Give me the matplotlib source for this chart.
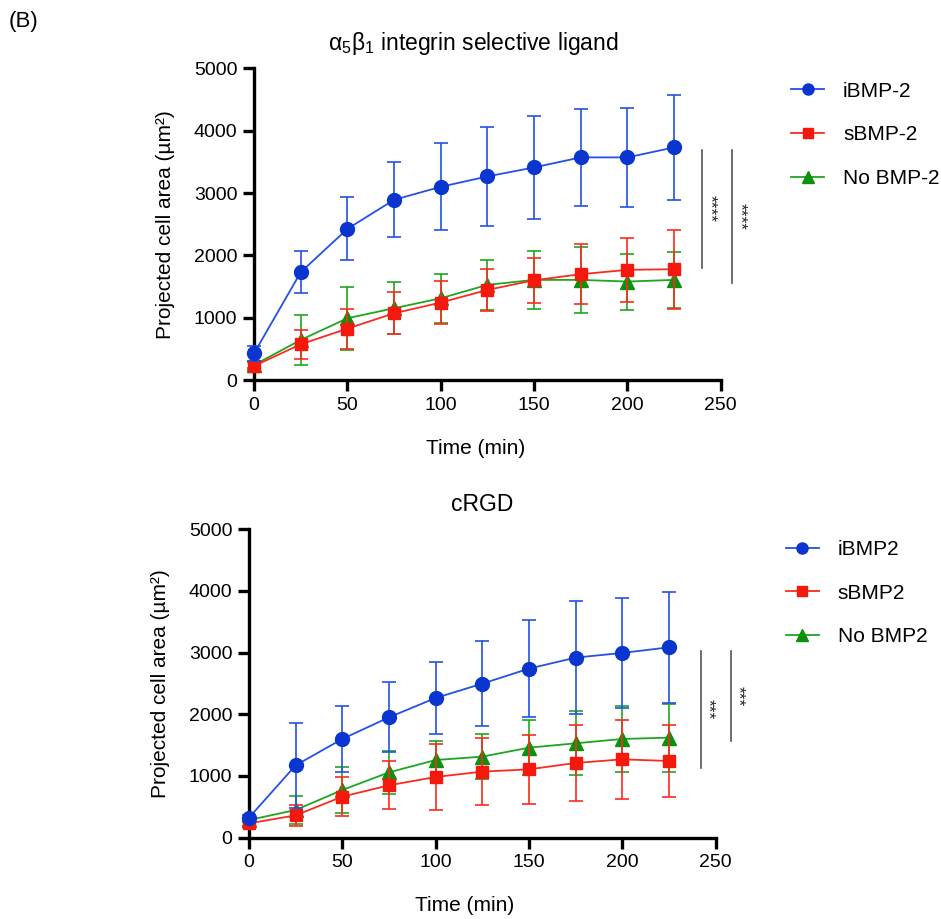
# Projected cell area over time, two panels (a5b1 ligand / cRGD)
import matplotlib
matplotlib.use('Agg')
from matplotlib import pyplot as plt
from matplotlib.lines import Line2D

plt.rcParams['font.family'] = ['Liberation Sans', 'DejaVu Sans']
plt.rcParams['mathtext.default'] = 'regular'

time = [0, 25, 50, 75, 100, 125, 150, 175, 200, 225]

# panel 1: a5b1 integrin selective ligand
top_labels = ['iBMP-2', 'sBMP-2', 'No BMP-2']
top_ibmp = [428, 1730, 2426, 2892, 3101, 3267, 3412, 3573, 3573, 3733]
top_ibmp_sd = [125, 335, 505, 600, 700, 800, 830, 775, 790, 840]
top_sbmp = [225, 573, 825, 1071, 1243, 1446, 1601, 1698, 1768, 1778]
top_sbmp_sd = [60, 233, 320, 335, 340, 338, 360, 480, 515, 635]
top_nobmp = [241, 643, 991, 1152, 1312, 1527, 1607, 1607, 1580, 1607]
top_nobmp_sd = [50, 400, 505, 415, 390, 405, 470, 530, 450, 450]

# panel 2: cRGD
bot_labels = ['iBMP2', 'sBMP2', 'No BMP2']
bot_ibmp = [324, 1173, 1600, 1951, 2265, 2497, 2741, 2919, 2995, 3086]
bot_ibmp_sd = [50, 690, 540, 565, 590, 685, 780, 920, 890, 900]
bot_sbmp = [232, 362, 665, 849, 984, 1070, 1108, 1211, 1270, 1243]
bot_sbmp_sd = [40, 175, 320, 390, 530, 545, 555, 615, 640, 590]
bot_nobmp = [286, 449, 773, 1059, 1259, 1314, 1459, 1530, 1600, 1622]
bot_nobmp_sd = [40, 220, 370, 350, 310, 370, 450, 520, 540, 550]

# significance bars: (x, y_top, y_bottom, x_text, text)
top_sig = [(240, 3692, 1798, 244, '****'), (256, 3692, 1557, 260.5, '****')]
bot_sig = [(242, 3032, 1124, 246, '***'), (258, 3032, 1573, 262, '***')]

blue_line, blue_mk = '#2352e3', '#0a36cf'
red_line, red_mk = '#fb2a1e', '#f5180c'
green_line, green_mk = '#1fa51f', '#0d900d'


def draw_panel(ax, title, labels, ib, ib_sd, sb, sb_sd, nb, nb_sd, sig,
               title_x, xlabel_x, legend_anchor):
    kw = dict(elinewidth=1.2, capsize=4.8, capthick=1.2, lw=1.3, clip_on=False)
    b3 = ax.errorbar(time, nb, yerr=nb_sd, color=green_line, marker='^', ms=10,
                     mfc=green_mk, mec=green_mk, zorder=3, **kw)
    b2 = ax.errorbar(time, sb, yerr=sb_sd, color=red_line, marker='s', ms=9,
                     mfc=red_mk, mec=red_mk, zorder=4, **kw)
    b1 = ax.errorbar(time, ib, yerr=ib_sd, color=blue_line, marker='o', ms=10,
                     mfc=blue_mk, mec=blue_mk, zorder=5, **kw)
    for b in (b1, b2, b3):
        for c in list(b[1]) + list(b[2]):
            c.set_clip_on(False)

    for x, y0, y1, xt, s in sig:
        ax.plot([x, x], [y0, y1], color='#555555', lw=1.2, clip_on=False)
        ax.text(xt, (y0 + y1) / 2, s, rotation=270, fontsize=12.5,
                ha='center', va='center', color='#222222')

    ax.set_xlim(0, 250)
    ax.set_ylim(0, 5000)
    ax.set_xticks([0, 50, 100, 150, 200, 250])
    ax.set_yticks([0, 1000, 2000, 3000, 4000, 5000])
    for side in ['top', 'right']:
        ax.spines[side].set_visible(False)
    for side in ['left', 'bottom']:
        ax.spines[side].set_linewidth(2.4)
    ax.tick_params(axis='both', which='major', labelsize=14, width=2.4,
                   length=8, pad=4, direction='out')

    ax.set_title(title, fontsize=16.5, pad=13, x=title_x)
    ax.set_xlabel('Time (min)', fontsize=15)
    ax.xaxis.set_label_coords(xlabel_x, -0.19)
    ax.set_ylabel('Projected cell area (µm²)', fontsize=15)
    ax.yaxis.set_label_coords(-0.17, 0.5)

    handles = [
        Line2D([], [], color=blue_line, marker='o', ms=8, mfc=blue_mk, mec=blue_mk, lw=1.3),
        Line2D([], [], color=red_line, marker='s', ms=7.5, mfc=red_mk, mec=red_mk, lw=1.3),
        Line2D([], [], color=green_line, marker='^', ms=8, mfc=green_mk, mec=green_mk, lw=1.3),
    ]
    ax.legend(handles, labels, loc='upper left', frameon=False,
              bbox_to_anchor=legend_anchor, bbox_transform=ax.figure.transFigure,
              fontsize=15, borderpad=0, borderaxespad=0, labelspacing=1.18,
              handlelength=1.6, handletextpad=0.9)


fig = plt.figure(figsize=(9.41, 9.19), dpi=100)
ax1 = fig.add_axes([0.270, 0.5865, 0.496, 0.339])
ax2 = fig.add_axes([0.2646, 0.0885, 0.496, 0.3356])

draw_panel(ax1, r'$α_5β_1$ integrin selective ligand', top_labels,
           top_ibmp, top_ibmp_sd, top_sbmp, top_sbmp_sd, top_nobmp, top_nobmp_sd,
           top_sig, 0.47, 0.475, (0.8406, 0.911))
draw_panel(ax2, 'cRGD', bot_labels,
           bot_ibmp, bot_ibmp_sd, bot_sbmp, bot_sbmp_sd, bot_nobmp, bot_nobmp_sd,
           bot_sig, 0.5, 0.463, (0.835, 0.4124))

fig.text(0.009, 0.977, '(B)', fontsize=16, ha='left', va='center')

fig.savefig('out.png', dpi=100)
